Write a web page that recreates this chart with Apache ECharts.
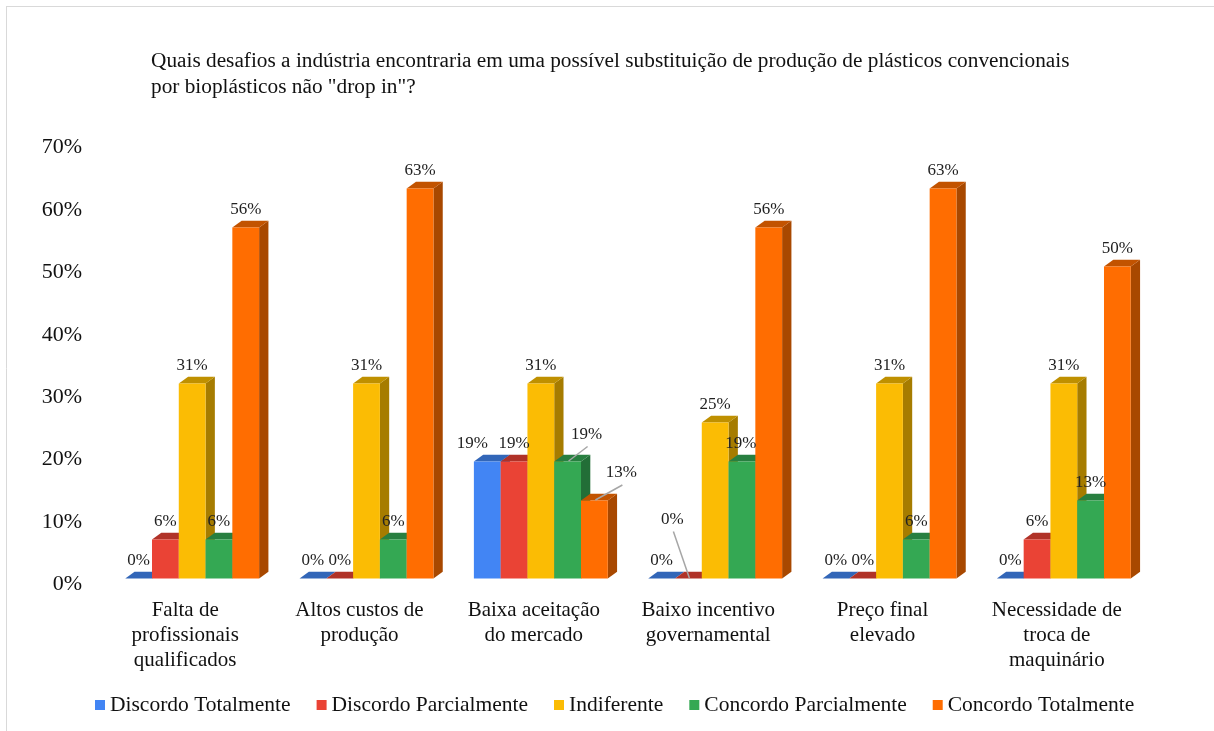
<!DOCTYPE html>
<html><head><meta charset="utf-8">
<style>html,body{margin:0;padding:0;background:#fff}#c{width:1214px;height:731px}</style>
<script src="https://cdn.jsdelivr.net/npm/echarts@6/dist/echarts.min.js"></script>
</head><body><div id="c"></div>
<script>
const categories = ['Falta de\nprofissionais\nqualificados','Altos custos de\nprodução','Baixa aceitação\ndo mercado','Baixo incentivo\ngovernamental','Preço final\nelevado','Necessidade de\ntroca de\nmaquinário'];
const discordoTotalmente = [0,0,18.75,0,0,0];
const discordoParcialmente = [6.25,0,18.75,0,0,6.25];
const indiferente = [31.25,31.25,31.25,25,31.25,31.25];
const concordoParcialmente = [6.25,6.25,18.75,18.75,6.25,12.5];
const concordoTotalmente = [56.25,62.5,12.5,56.25,62.5,50];
const seriesNames = ['Discordo Totalmente','Discordo Parcialmente','Indiferente','Concordo Parcialmente','Concordo Totalmente'];
const seriesValues = [discordoTotalmente,discordoParcialmente,indiferente,concordoParcialmente,concordoTotalmente];
const frontColors = ['#4285F4','#EA4335','#FBBC04','#34A853','#FF6D01'];
const topColors = ['#3266B8','#B03228','#BF9000','#287F40','#C25300'];
const sideColors = ['#2B5AA0','#9A2C23','#A67C00','#226E37','#A84800'];
const barShare = 0.1536, depthX = 9.3, depthY = 6.7;
const labelNudges = {
  '0:2':{dx:-15,dy:0},
  '3:2':{dx:19,dy:-9,lead:true},
  '4:2':{dx:27,dy:-9.5,lead:true},
  '1:3':{dx:-16,dy:-41,lead:true},
  '3:3':{dx:-1,dy:0}
};
const fontFamily = '"Liberation Serif","Times New Roman",serif';
function renderBar(si){
  return function(params, api){
    const ci = api.value(0), v = api.value(1);
    const band = api.size([1,0])[0];
    const w = band*barShare;
    const base = api.coord([ci,0]);
    const top = api.coord([ci,v]);
    const x0 = base[0] + (si-2.5)*w;
    const x1 = x0+w, yb = base[1], yt = top[1];
    const dx = depthX, dy = depthY;
    const kids = [
      {type:'polygon',shape:{points:[[x1,yb],[x1+dx,yb-dy],[x1+dx,yt-dy],[x1,yt]]},style:{fill:sideColors[si]}},
      {type:'polygon',shape:{points:[[x0,yt],[x0+dx,yt-dy],[x1+dx,yt-dy],[x1,yt]]},style:{fill:topColors[si]}}
    ];
    if (v>0) kids.push({type:'rect',shape:{x:x0,y:yt,width:w,height:yb-yt},style:{fill:frontColors[si]}});
    const n = labelNudges[si+':'+ci] || {dx:0,dy:0};
    const tx = x0+w/2+n.dx, ty = yt-18+n.dy;
    kids.push({type:'text',z2:100,style:{x:tx,y:ty,text:Math.round(v)+'%',fill:'#222',font:'17px '+fontFamily,textAlign:'center',textVerticalAlign:'middle'}});
    if (n.lead){
      kids.push({type:'line',z2:99,shape:{x1:tx+1,y1:ty+12,x2:x0+w/2+1,y2:yt-0.5},style:{stroke:'#a6a6a6',lineWidth:1.5}});
    }
    return {type:'group',children:kids};
  };
}
const chart = echarts.init(document.getElementById('c'),null,{renderer:'canvas'});
chart.setOption({
  animation:false,
  backgroundColor:'#fff',
  graphic:[
    {type:'line',z:-1,shape:{x1:6,y1:6.5,x2:1214,y2:6.5},style:{stroke:'#d9d9d9',lineWidth:1}},
    {type:'line',z:-1,shape:{x1:6.5,y1:6,x2:6.5,y2:731},style:{stroke:'#d9d9d9',lineWidth:1}},
    {type:'text',left:151,top:48,style:{text:'Quais desafios a indústria encontraria em uma possível substituição de produção de plásticos convencionais\npor bioplásticos não "drop in"?',font:'21.3px '+fontFamily,fill:'#111',lineHeight:26}}
  ],
  legend:{left:90,top:689,itemWidth:10,itemHeight:10,itemGap:26,icon:'rect',
    textStyle:{fontFamily,fontSize:21.5,color:'#111'},data:seriesNames},
  grid:{left:105,right:63,top:141.7,bottom:152.5,containLabel:false},
  xAxis:{type:'category',data:categories,axisLine:{show:false},axisTick:{show:false},
    axisLabel:{fontFamily,fontSize:21,color:'#111',margin:19,lineHeight:25,interval:0,padding:[0,14,0,0]}},
  yAxis:{type:'value',min:0,max:70,interval:10,splitLine:{show:false},axisLine:{show:false},axisTick:{show:false},
    axisLabel:{fontFamily,fontSize:22,color:'#111',margin:23,formatter:'{value}%',verticalAlign:'top',lineHeight:12}},
  series:seriesNames.map((name,si)=>({
    name,type:'custom',itemStyle:{color:frontColors[si]},
    encode:{x:0,y:1},
    data:seriesValues[si].map((v,ci)=>[ci,v]),
    renderItem:renderBar(si),clip:false
  }))
});
</script></body></html>
